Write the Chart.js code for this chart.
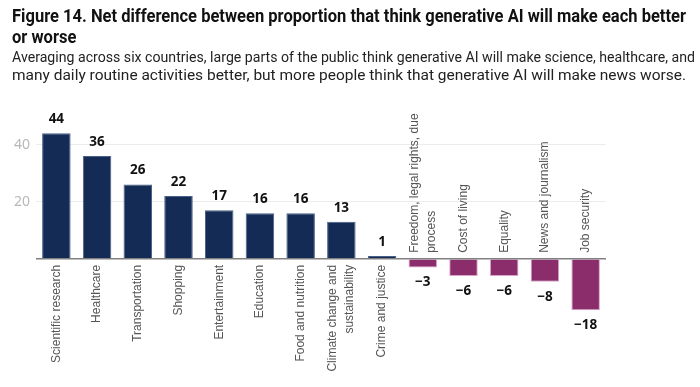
<!DOCTYPE html>
<html>
<head>
<meta charset="utf-8">
<script src="https://cdn.jsdelivr.net/npm/chart.js@4/dist/chart.umd.min.js"></script>
<style>
  html, body { margin: 0; padding: 0; background: #fff; }
  #wrap { position: relative; width: 700px; height: 387px; overflow: hidden; }
  .ln { position: absolute; left: 12px; white-space: nowrap; transform-origin: 0 0; font-family: "Roboto", sans-serif; }
  .t { font-weight: bold; font-size: 17.5px; line-height: 20px; color: #111; }
  .s { font-size: 15px; line-height: 18px; color: #222; }
  canvas { position: absolute; left: 0; top: 0; }
</style>
</head>
<body>
<div id="wrap">
  <canvas id="c" width="700" height="387"></canvas>
  <div class="ln t" style="top:6px" data-w="674">Figure 14. Net difference between proportion that think generative AI will make each better</div>
  <div class="ln t" style="top:27px" data-w="60">or worse</div>
  <div class="ln s" style="top:48px" data-w="683">Averaging across six countries, large parts of the public think generative AI will make science, healthcare, and</div>
  <div class="ln s" style="top:66px" data-w="674">many daily routine activities better, but more people think that generative AI will make news worse.</div>
</div>
<script>
const categories = [
  ["Scientific research"], ["Healthcare"], ["Transportation"], ["Shopping"],
  ["Entertainment"], ["Education"], ["Food and nutrition"],
  ["Climate change and", "sustainability"], ["Crime and justice"],
  ["Freedom, legal rights, due", "process"], ["Cost of living"], ["Equality"],
  ["News and journalism"], ["Job security"]
];
const netValues = [44, 36, 26, 22, 17, 16, 16, 13, 1, -3, -6, -6, -8, -18];
const yTicks = [20, 40];

const NAVY = '#132b55';
const PURPLE = '#8b2d6b';

// fit header lines to reference widths (condensed typeface substitute)
const lines = document.querySelectorAll('.ln');
const scaleRef = [];
lines.forEach(el => {
  const w = el.getBoundingClientRect().width;
  const target = parseFloat(el.dataset.w);
  scaleRef.push(target / w);
});
// use the same condensation for lines of the same style (based on long lines)
lines.forEach((el, i) => {
  let s = scaleRef[i];
  if (i === 1) s = scaleRef[0];
  el.style.transform = 'scaleX(' + s.toFixed(4) + ')';
});

const labelPlugin = {
  id: 'customLabels',
  afterDatasetsDraw(chart) {
    const ctx = chart.ctx;
    const x = chart.scales.x;
    const y = chart.scales.y;
    const zero = y.getPixelForValue(0);
    ctx.save();
    netValues.forEach((v, i) => {
      const cx = x.getPixelForValue(i);
      const py = y.getPixelForValue(v);
      ctx.font = 'bold 13.5px "Noto Sans", sans-serif';
      ctx.fillStyle = '#111';
      ctx.textAlign = 'center';
      ctx.textBaseline = 'middle';
      const txt = v < 0 ? '\u2212' + Math.abs(v) : String(v);
      ctx.fillText(txt, cx, v >= 0 ? py - 14 : py + 15);
      const lns = categories[i];
      ctx.save();
      ctx.translate(cx, v >= 0 ? zero + 6 : zero - 6);
      ctx.rotate(-Math.PI / 2);
      ctx.font = '12px "Liberation Sans", sans-serif';
      ctx.fillStyle = '#555';
      ctx.textBaseline = 'middle';
      ctx.textAlign = v >= 0 ? 'right' : 'left';
      const lh = 17;
      lns.forEach((ln, k) => {
        const off = (k - (lns.length - 1) / 2) * lh;
        ctx.fillText(ln, 0, off);
      });
      ctx.restore();
    });
    ctx.restore();
  }
};

new Chart(document.getElementById('c'), {
  type: 'bar',
  data: {
    labels: categories.map(c => c.join(' ')),
    datasets: [{
      data: netValues,
      backgroundColor: netValues.map(v => v >= 0 ? NAVY : PURPLE),
      borderColor: netValues.map(v => v >= 0 ? '#4a5f85' : '#d9a3c8'),
      borderWidth: 1,
      borderSkipped: 'start',
      barPercentage: 0.7,
      categoryPercentage: 1.0
    }]
  },
  options: {
    responsive: false,
    animation: false,
    devicePixelRatio: 1,
    layout: { padding: { top: 116, bottom: 71, left: 6, right: 94 } },
    plugins: { legend: { display: false }, tooltip: { enabled: false }, title: { display: false } },
    scales: {
      x: { display: false, offset: true },
      y: {
        min: -20, max: 50,
        afterFit(scale) { scale.width = 30; },
        afterBuildTicks(scale) { scale.ticks = [{ value: 0 }].concat(yTicks.map(v => ({ value: v }))); },
        border: { display: false },
        grid: {
          drawTicks: false,
          color: ctx => ctx.tick && ctx.tick.value === 0 ? '#808080' : '#ececec',
          lineWidth: ctx => ctx.tick && ctx.tick.value === 0 ? 1.5 : 1
        },
        ticks: {
          padding: 6,
          color: '#b8b8b8',
          font: { family: '"Noto Sans", sans-serif', size: 14 },
          callback: v => v > 0 ? String(v) : ''
        }
      }
    }
  },
  plugins: [labelPlugin]
});
</script>
</body>
</html>
